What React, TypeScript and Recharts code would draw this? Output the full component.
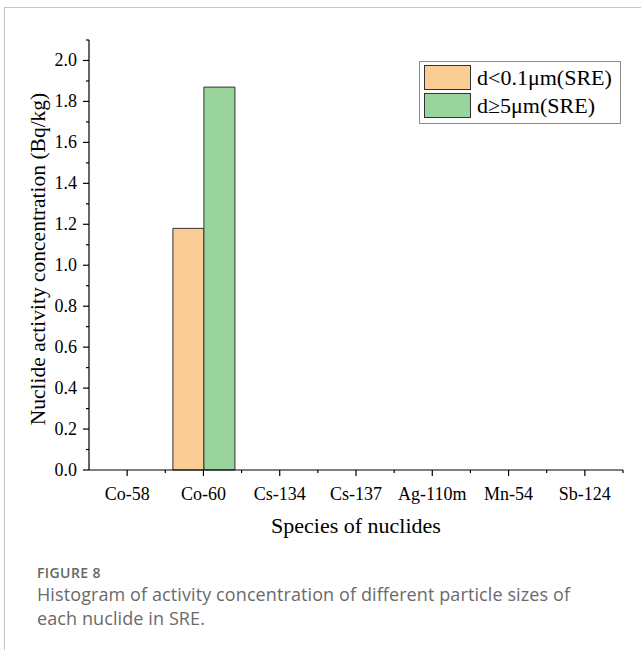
import React from "react";
import { Bar, BarChart, Legend, XAxis, YAxis } from "recharts";

const categories = ["Co-58", "Co-60", "Cs-134", "Cs-137", "Ag-110m", "Mn-54", "Sb-124"];
const fineParticles = [null, 1.18, null, null, null, null, null];
const coarseParticles = [null, 1.87, null, null, null, null, null];
const yTicks = [0, 0.1, 0.2, 0.3, 0.4, 0.5, 0.6, 0.7, 0.8, 0.9, 1.0, 1.1, 1.2, 1.3, 1.4, 1.5, 1.6, 1.7, 1.8, 1.9, 2.0, 2.1];

const SERIF = '"Liberation Serif", "Times New Roman", serif';
const SANS = '"Open Sans", "Noto Sans", sans-serif';

const chartData = categories.map((name, i) => ({
    name,
    fine: fineParticles[i],
    coarse: coarseParticles[i],
}));

const YTick = (props: any) => {
    const { x, y, payload } = props;
    const major = Math.round(payload.value * 10) % 2 === 0;
    return (
        <g>
            <line x1={x} x2={x - (major ? 6 : 3)} y1={y} y2={y} stroke="#000" strokeWidth={1.2} />
            {major && (
                <text x={x - 12} y={y} textAnchor="end" dominantBaseline="central" fontFamily={SERIF} fontSize={18} fill="#000">
                    {payload.value.toFixed(1)}
                </text>
            )}
        </g>
    );
};

const XTick = (props: any) => {
    const { x, y, payload, width, visibleTicksCount } = props;
    const band = width && visibleTicksCount ? width / visibleTicksCount : 76.2;
    return (
        <g>
            <line x1={x} x2={x} y1={y} y2={y + 6} stroke="#000" strokeWidth={1.2} />
            <line x1={x + band / 2} x2={x + band / 2} y1={y} y2={y + 3} stroke="#000" strokeWidth={1.2} />
            <text x={x} y={y + 24} textAnchor="middle" dominantBaseline="central" fontFamily={SERIF} fontSize={18} fill="#000">
                {payload.value}
            </text>
        </g>
    );
};

const YTitle = (props: any) => {
    const { viewBox } = props;
    const cy = viewBox.y + viewBox.height / 2 + 4;
    return (
        <text
            x={38}
            y={cy}
            transform={`rotate(-90, 38, ${cy})`}
            textAnchor="middle"
            dominantBaseline="central"
            fontFamily={SERIF}
            fontSize={21.5}
            fill="#000"
        >
            Nuclide activity concentration (Bq/kg)
        </text>
    );
};

const LegendBox = ({ payload }: any) => (
    <div
        style={{
            border: "1px solid #8a8a8a",
            background: "#fff",
            padding: "3px 8px 5px 4px",
            fontFamily: SERIF,
            fontSize: 22,
            color: "#000",
        }}
    >
        {payload?.map((entry: any, index: number) => (
            <div key={`item-${index}`} style={{ display: "flex", alignItems: "center", height: 25, marginTop: index ? 3 : 0 }}>
                <div
                    style={{
                        width: 45,
                        height: 23,
                        background: entry.color,
                        border: "1px solid #333",
                        marginRight: 6,
                    }}
                />
                <span style={{ whiteSpace: "nowrap" }}>{entry.value}</span>
            </div>
        ))}
    </div>
);

export default function App() {
    return (
        <div style={{ position: "absolute", left: 0, top: 0, width: 641, height: 650, overflow: "hidden", background: "#fff" }}>
            <div
                style={{
                    position: "absolute",
                    left: 4,
                    top: 7,
                    width: 700,
                    height: 700,
                    border: "1px solid #c4c4c4",
                    boxSizing: "border-box",
                }}
            />
            <div style={{ position: "absolute", left: 0, top: 0 }}>
                <BarChart
                    width={641}
                    height={540}
                    data={chartData}
                    margin={{ top: 40, right: 18, left: 0, bottom: 0 }}
                    barCategoryGap="10%"
                    barGap={0}
                >
                    <XAxis
                        dataKey="name"
                        height={70}
                        interval={0}
                        tickSize={0}
                        tickMargin={0}
                        tickLine={false}
                        axisLine={{ stroke: "#000", strokeWidth: 1.2 }}
                        tick={<XTick />}
                        label={{
                            value: "Species of nuclides",
                            position: "insideBottom",
                            offset: 7,
                            fontFamily: SERIF,
                            fontSize: 22,
                            fill: "#000",
                        }}
                    />
                    <YAxis
                        width={89}
                        domain={[0, 2.1]}
                        ticks={yTicks}
                        interval={0}
                        tickSize={0}
                        tickMargin={0}
                        tickLine={false}
                        axisLine={{ stroke: "#000", strokeWidth: 1.2 }}
                        tick={<YTick />}
                        label={<YTitle />}
                    />
                    <Legend
                        layout="vertical"
                        align="center"
                        verticalAlign="middle"
                        wrapperStyle={{ left: 419, top: 61, width: "auto" }}
                        content={<LegendBox />}
                    />
                    <Bar dataKey="fine" name="d<0.1μm(SRE)" fill="#f9cd93" stroke="#333" strokeWidth={1} isAnimationActive={false} />
                    <Bar dataKey="coarse" name="d≥5μm(SRE)" fill="#98d49b" stroke="#333" strokeWidth={1} isAnimationActive={false} />
                </BarChart>
            </div>
            <div style={{ position: "absolute", left: 37, top: 563, fontFamily: SANS, fontSize: 14, fontWeight: 600, color: "#666", letterSpacing: 0.4 }}>
                FIGURE 8
            </div>
            <div
                style={{
                    position: "absolute",
                    left: 37,
                    top: 582,
                    width: 560,
                    fontFamily: SANS,
                    fontSize: 18,
                    lineHeight: "24px",
                    letterSpacing: 0.1,
                    color: "#6a6a6a",
                }}
            >
                Histogram of activity concentration of different particle sizes of each nuclide in SRE.
            </div>
        </div>
    );
}
